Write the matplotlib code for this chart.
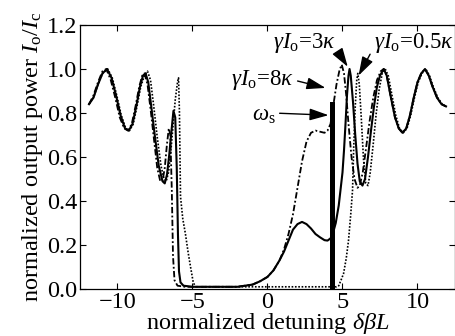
import matplotlib
matplotlib.use("Agg")
import matplotlib.pyplot as plt

plt.rcParams['font.family'] = ['Liberation Serif', 'DejaVu Serif']
plt.rcParams['mathtext.fontset'] = 'custom'
plt.rcParams['mathtext.rm'] = 'Liberation Serif'
plt.rcParams['mathtext.it'] = 'Liberation Serif:italic'
plt.rcParams['font.size'] = 17.5

# gamma*I_o = 3 kappa (solid)
x_solid = [-11.9, -11.6, -11.3, -11.0, -10.7, -10.4, -10.1, -9.8, -9.5, -9.25, -9.0, -8.75,
           -8.5, -8.3, -8.13, -7.95, -7.75, -7.5, -7.25, -7.0, -6.85, -6.7, -6.55, -6.4,
           -6.27, -6.15, -6.05, -5.97, -5.9, -5.8, -5.6, -5.0, -4.0, -3.0, -2.0, -1.5, -1.0,
           -0.5, 0.0, 0.4, 0.8, 1.1, 1.4, 1.7, 2.0, 2.3, 2.6, 2.9, 3.2, 3.5, 3.8, 4.0, 4.2,
           4.35, 4.55, 4.75, 5.0, 5.1, 5.2, 5.3, 5.4, 5.47, 5.55, 5.7, 5.85, 6.0, 6.15, 6.33,
           6.5, 6.7, 6.9, 7.1, 7.3, 7.5, 7.75, 7.95, 8.2, 8.5, 8.75, 9.0, 9.25, 9.5, 9.75,
           10.0, 10.25, 10.5, 10.75, 11.0, 11.3, 11.6, 11.9]
y_solid = [0.84, 0.87, 0.93, 0.98, 1.0, 0.96, 0.88, 0.79, 0.73, 0.72, 0.75, 0.83,
           0.92, 0.97, 0.98, 0.94, 0.83, 0.69, 0.56, 0.49, 0.48, 0.52, 0.61, 0.72,
           0.81, 0.78, 0.55, 0.25, 0.08, 0.03, 0.015, 0.01, 0.01, 0.01, 0.01, 0.015, 0.02,
           0.035, 0.055, 0.085, 0.13, 0.17, 0.22, 0.27, 0.295, 0.305, 0.295, 0.275, 0.25, 0.235, 0.222, 0.22, 0.23,
           0.25, 0.30, 0.38, 0.53, 0.63, 0.75, 0.88, 0.97, 1.0, 0.97, 0.85, 0.70, 0.57, 0.49, 0.47,
           0.50, 0.60, 0.72, 0.83, 0.92, 0.97, 1.0, 0.97, 0.88, 0.78, 0.73, 0.71, 0.73, 0.79, 0.87,
           0.94, 0.98, 1.0, 0.97, 0.92, 0.87, 0.84, 0.83]

# gamma*I_o = 8 kappa (dash-dot)
x_dd = [-11.9, -11.6, -11.3, -11.0, -10.75, -10.45, -10.15, -9.85, -9.55, -9.3, -9.05, -8.8,
        -8.55, -8.35, -8.2, -8.0, -7.8, -7.55, -7.35, -7.15, -7.0, -6.85, -6.7, -6.58,
        -6.48, -6.38, -6.3, -6.2, -6.0, -5.5, -4.0, -3.0, -2.0, -1.5, -1.0, -0.5, 0.0,
        0.4, 0.8, 1.1, 1.4, 1.7, 2.0, 2.3, 2.6, 2.9, 3.2, 3.5, 3.8, 4.0, 4.2, 4.4, 4.6,
        4.8, 4.95, 5.1, 5.25, 5.4, 5.6, 5.8, 6.0, 6.15, 6.35, 6.55, 6.8, 7.05, 7.3, 7.55,
        7.75, 7.95, 8.2, 8.5, 8.75, 9.0, 9.25, 9.5, 9.75, 10.0, 10.25, 10.5, 10.75, 11.0,
        11.3, 11.6, 11.9]
y_dd = [0.84, 0.88, 0.94, 0.99, 1.0, 0.95, 0.87, 0.78, 0.73, 0.72, 0.75, 0.83,
        0.92, 0.97, 0.98, 0.93, 0.82, 0.67, 0.55, 0.49, 0.49, 0.55, 0.66, 0.73,
        0.70, 0.45, 0.15, 0.04, 0.015, 0.01, 0.01, 0.01, 0.01, 0.015, 0.02, 0.035, 0.055,
        0.085, 0.13, 0.18, 0.25, 0.34, 0.46, 0.58, 0.67, 0.71, 0.72, 0.715, 0.71, 0.72, 0.75, 0.84, 0.93,
        0.995, 1.02, 0.98, 0.88, 0.75, 0.60, 0.50, 0.46, 0.47, 0.53, 0.63, 0.76, 0.87, 0.95, 0.99,
        1.0, 0.97, 0.88, 0.78, 0.73, 0.71, 0.73, 0.79, 0.87, 0.94, 0.98, 1.0, 0.97, 0.92,
        0.87, 0.84, 0.83]

# gamma*I_o = 0.5 kappa (dotted)
x_dot = [-11.9, -11.6, -11.3, -11.0, -10.65, -10.35, -10.05, -9.75, -9.45, -9.2, -8.95, -8.7,
         -8.45, -8.2, -8.0, -7.8, -7.6, -7.35, -7.1, -6.9, -6.75, -6.6, -6.45, -6.3, -6.15,
         -6.0, -5.93, -5.87, -5.8, -5.65, -5.47, -5.3, -5.13, -4.95, -4.8, -2.0, 1.0, 4.6,
         4.75, 4.9, 5.07, 5.25, 5.4, 5.55, 5.67, 5.75, 5.85, 5.95, 6.02, 6.12, 6.25, 6.4,
         6.55, 6.7, 6.85, 7.05, 7.25, 7.45, 7.65, 7.85, 8.05, 8.3, 8.55, 8.8, 9.05, 9.3,
         9.55, 9.8, 10.05, 10.3, 10.55, 10.8, 11.05, 11.35, 11.65, 11.9]
y_dot = [0.84, 0.87, 0.93, 0.98, 1.0, 0.96, 0.88, 0.79, 0.73, 0.72, 0.75, 0.83,
         0.92, 0.97, 0.99, 0.95, 0.84, 0.69, 0.56, 0.50, 0.49, 0.53, 0.62, 0.74, 0.86,
         0.94, 0.96, 0.80, 0.42, 0.32, 0.25, 0.17, 0.10, 0.03, 0.01, 0.01, 0.01, 0.01,
         0.015, 0.04, 0.07, 0.14, 0.22, 0.34, 0.45, 0.65, 0.83, 0.95, 0.98, 0.93, 0.78, 0.59,
         0.48, 0.47, 0.53, 0.66, 0.80, 0.91, 0.98, 1.0, 0.97, 0.88, 0.79, 0.73, 0.71, 0.73,
         0.79, 0.87, 0.94, 0.98, 1.0, 0.97, 0.92, 0.87, 0.84, 0.83]

# signal frequency marker
omega_s_x = [4.33]
omega_s_h = [0.85]

xticks = [-10, -5, 0, 5, 10]
yticks = [0.0, 0.2, 0.4, 0.6, 0.8, 1.0, 1.2]

fig = plt.figure(figsize=(4.56, 3.36), dpi=100)
ax = fig.add_axes([80/456, 47/336, 375/456, 264/336])

ax.plot(x_solid, y_solid, color='k', lw=1.5, ls='-')
ax.plot(x_dd, y_dd, color='k', lw=1.3, ls=(0, (3.5, 1.3, 1, 1.3)))
ax.plot(x_dot, y_dot, color='k', lw=1.2, ls=(0, (1, 1)))
ax.bar(omega_s_x, omega_s_h, width=0.28, color='k')

ax.set_xlim(-12.5, 12.5)
ax.set_ylim(0, 1.2)
ax.set_xticks(xticks)
ax.set_yticks(yticks)
ax.set_yticklabels([f"{v:.1f}" for v in yticks])
ax.tick_params(direction='in', top=True, right=True, length=4, width=0.8, pad=2)
for s in ax.spines.values():
    s.set_linewidth(0.9)

ax.set_xlabel(r'normalized detuning $\delta\beta L$', labelpad=-1)
ax.set_ylabel(r'normalized output power $I_{\rm o}/I_{\rm c}$', labelpad=1)

ap = dict(arrowstyle='-|>,head_length=0.7,head_width=0.22', color='k', lw=1.0,
          shrinkA=1, shrinkB=0)
fs = 16.5
ax.annotate(r'$\gamma I_{\rm o}$=3$\kappa$', xy=(5.35, 1.01), xytext=(4.53, 1.118),
            ha='right', va='center', fontsize=fs, arrowprops=dict(ap, relpos=(1.0, 0.3)))
ax.annotate(r'$\gamma I_{\rm o}$=0.5$\kappa$', xy=(6.07, 0.97), xytext=(7.07, 1.118),
            ha='left', va='center', fontsize=fs, arrowprops=dict(ap, relpos=(0.0, 0.3)))
ax.annotate(r'$\gamma I_{\rm o}$=8$\kappa$', xy=(3.87, 0.914), xytext=(1.73, 0.95),
            ha='right', va='center', fontsize=fs, arrowprops=dict(ap, relpos=(1.0, 0.5)))
ax.annotate(r'$\omega_{\rm s}$', xy=(4.07, 0.79), xytext=(0.53, 0.79),
            ha='right', va='center', fontsize=fs, arrowprops=dict(ap, relpos=(1.0, 0.6)))

fig.savefig('out.png', dpi=100)
